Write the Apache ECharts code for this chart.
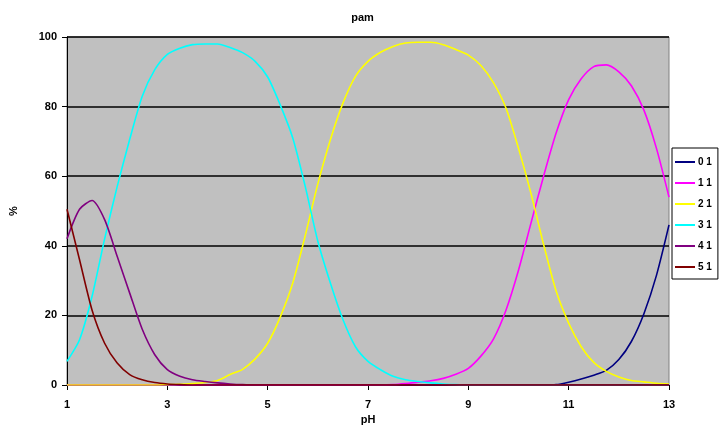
<!DOCTYPE html>
<html>
<head>
<meta charset="utf-8">
<script src="https://cdn.jsdelivr.net/npm/echarts@6/dist/echarts.min.js"></script>
<style>html,body{margin:0;padding:0;background:#fff;}#c{width:725px;height:440px;}</style>
</head>
<body>
<div id="c"></div>
<script>
const pH = [1,1.25,1.5,1.75,2,2.25,2.5,2.75,3,3.25,3.5,3.75,4,4.25,4.5,4.75,5,5.25,5.5,5.75,6,6.25,6.5,6.75,7,7.25,7.5,7.75,8,8.25,8.5,8.75,9,9.25,9.5,9.75,10,10.25,10.5,10.75,11,11.25,11.5,11.75,12,12.25,12.5,12.75,13];
const s01 = [0,0,0,0,0,0,0,0,0,0,0,0,0,0,0,0,0,0,0,0,0,0,0,0,0,0,0,0,0,0,0,0,0,0,0,0,0,0,0,0.1,0.8,1.7,2.8,4.2,7.3,12.5,20.5,31.5,46];
const s11 = [0,0,0,0,0,0,0,0,0,0,0,0,0,0,0,0,0,0,0,0,0,0,0,0,0,0,0.1,0.4,0.8,1.2,1.9,3.1,4.8,8.3,13.2,21.5,33,46.6,60,72.4,82,88,91.5,92,90,86,79,68,54];
const s21 = [0,0,0,0,0,0,0,0,0.1,0.2,0.4,0.7,1.3,3,4.5,7.5,12,19.5,29.3,43,57.8,70.5,81,88.7,93,95.6,97.3,98.3,98.5,98.5,97.8,96.4,94.8,91.8,86.9,79.6,68,55,40.4,27,17.8,11,6.5,3.9,2.3,1.3,0.9,0.5,0.3];
const s31 = [6.8,13,25.5,42,57,70.6,83,90.6,95,96.8,97.8,98,98,97,95.5,93,88.5,80.5,71,57,41.3,29.3,18.8,11,6.8,4.4,2.5,1.5,1,0.6,0.3,0.1,0,0,0,0,0,0,0,0,0,0,0,0,0,0,0,0,0];
const s41 = [42,50.5,53,47.5,37,26.4,16,8.7,4.4,2.5,1.5,1,0.6,0.3,0.1,0,0,0,0,0,0,0,0,0,0,0,0,0,0,0,0,0,0,0,0,0,0,0,0,0,0,0,0,0,0,0,0,0,0];
const s51 = [50.5,36,21.5,12,6.3,3,1.5,0.7,0.3,0.1,0,0,0,0,0,0,0,0,0,0,0,0,0,0,0,0,0,0,0,0,0,0,0,0,0,0,0,0,0,0,0,0,0,0,0,0,0,0,0];
const names = ['0 1','1 1','2 1','3 1','4 1','5 1'];
const colors = ['#000080','#FF00FF','#FFFF00','#00FFFF','#800080','#800000'];
const all = [s01,s11,s21,s31,s41,s51];

const font = 'Liberation Sans, Arial, sans-serif';
const chart = echarts.init(document.getElementById('c'));
chart.setOption({
  backgroundColor: '#ffffff',
  animation: false,
  title: { text: 'pam', left: 'center', top: 7,
    textStyle: { fontFamily: font, fontSize: 11, fontWeight: 'bold', color: '#000' } },
  legend: {
    orient: 'vertical', left: 672, top: 148,
    itemWidth: 20, itemHeight: 2, itemGap: 9,
    icon: 'rect',
    padding: [8, 6, 6, 3],
    backgroundColor: '#ffffff', borderColor: '#000', borderWidth: 1, borderRadius: 0,
    textStyle: { fontFamily: font, fontSize: 10, fontWeight: 'bold', color: '#000', lineHeight: 12, padding: [0,0,0,-2] },
    data: names
  },
  grid: { left: 66, right: 56, top: 37, bottom: 55, show: true,
    backgroundColor: '#C0C0C0', borderColor: '#808080', borderWidth: 1 },
  xAxis: {
    type: 'value', min: 1, max: 13, interval: 2,
    name: 'pH', nameLocation: 'middle', nameGap: 29,
    nameTextStyle: { fontFamily: font, fontSize: 11, fontWeight: 'bold', color: '#000' },
    axisLine: { show: true, onZero: false, lineStyle: { color: '#000', width: 1 } },
    axisTick: { show: true, length: 5, lineStyle: { color: '#000' } },
    axisLabel: { fontFamily: font, fontSize: 11, fontWeight: 'bold', color: '#000', margin: 14 },
    splitLine: { show: false }
  },
  yAxis: {
    type: 'value', min: 0, max: 100, interval: 20,
    name: '%', nameLocation: 'middle', nameGap: 48, nameRotate: 90,
    nameTextStyle: { fontFamily: font, fontSize: 11, fontWeight: 'bold', color: '#000' },
    axisLine: { show: true, lineStyle: { color: '#000', width: 1 } },
    axisTick: { show: true, length: 5, lineStyle: { color: '#000' } },
    axisLabel: { fontFamily: font, fontSize: 11, fontWeight: 'bold', color: '#000', margin: 10 },
    splitLine: { show: true, lineStyle: { color: '#000', width: 1.5 } }
  },
  series: names.map((n, i) => ({
    name: n, type: 'line', showSymbol: false, symbol: 'none',
    smooth: 0.25, clip: true,
    color: colors[i],
    itemStyle: { color: colors[i] },
    lineStyle: { color: colors[i], width: 1.6 },
    data: pH.map((x, j) => [x, all[i][j]])
  }))
});
</script>
</body>
</html>
